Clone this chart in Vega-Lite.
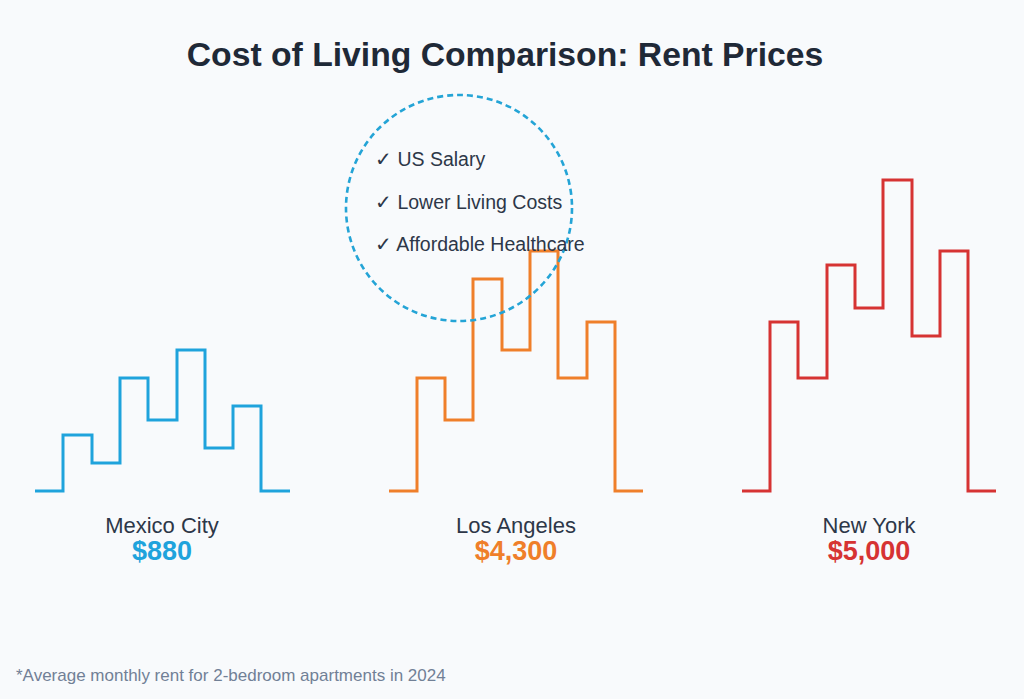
{
  "$schema": "https://vega.github.io/schema/vega-lite/v6.json",
  "width": 1024,
  "height": 699,
  "autosize": {"type": "fit", "contains": "padding"},
  "padding": 0,
  "background": "#f8fafc",
  "config": {"view": {"stroke": null}, "font": "Liberation Sans"},
  "datasets": {
    "skyline": [
      {"city": "Mexico City", "x": 35, "y": 0},
      {"city": "Mexico City", "x": 63, "y": 56},
      {"city": "Mexico City", "x": 92, "y": 28},
      {"city": "Mexico City", "x": 120, "y": 113},
      {"city": "Mexico City", "x": 148, "y": 71},
      {"city": "Mexico City", "x": 177, "y": 141},
      {"city": "Mexico City", "x": 205, "y": 43},
      {"city": "Mexico City", "x": 233, "y": 85},
      {"city": "Mexico City", "x": 261, "y": 0},
      {"city": "Mexico City", "x": 290, "y": 0},
      {"city": "Los Angeles", "x": 389, "y": 0},
      {"city": "Los Angeles", "x": 417, "y": 113},
      {"city": "Los Angeles", "x": 445, "y": 71},
      {"city": "Los Angeles", "x": 473, "y": 212},
      {"city": "Los Angeles", "x": 502, "y": 141},
      {"city": "Los Angeles", "x": 530, "y": 240},
      {"city": "Los Angeles", "x": 558, "y": 113},
      {"city": "Los Angeles", "x": 587, "y": 169},
      {"city": "Los Angeles", "x": 615, "y": 0},
      {"city": "Los Angeles", "x": 643, "y": 0},
      {"city": "New York", "x": 742, "y": 0},
      {"city": "New York", "x": 770, "y": 169},
      {"city": "New York", "x": 798, "y": 113},
      {"city": "New York", "x": 827, "y": 226},
      {"city": "New York", "x": 855, "y": 183},
      {"city": "New York", "x": 883, "y": 311},
      {"city": "New York", "x": 912, "y": 155},
      {"city": "New York", "x": 940, "y": 240},
      {"city": "New York", "x": 968, "y": 0},
      {"city": "New York", "x": 996, "y": 0}
    ],
    "cities": [
      {"city": "Mexico City", "price": "$880", "x": 162},
      {"city": "Los Angeles", "price": "$4,300", "x": 516},
      {"city": "New York", "price": "$5,000", "x": 869}
    ],
    "benefits": [
      {"label": "✓ US Salary", "x": 375, "y": 325},
      {"label": "✓ Lower Living Costs", "x": 375, "y": 282},
      {"label": "✓ Affordable Healthcare", "x": 375, "y": 240}
    ],
    "circle": [{"x": 459, "y": 283}],
    "title": [{"label": "Cost of Living Comparison: Rent Prices", "x": 505, "y": 425}],
    "note": [{"label": "*Average monthly rent for 2-bedroom apartments in 2024", "x": 16, "y": -190}]
  },
  "layer": [
    {
      "data": {"name": "skyline"},
      "mark": {"type": "line", "interpolate": "step-after", "strokeWidth": 3, "strokeJoin": "miter"},
      "encoding": {
        "x": {"field": "x", "type": "quantitative", "scale": {"domain": [0, 1024], "nice": false, "zero": false}, "axis": null},
        "y": {"field": "y", "type": "quantitative", "scale": {"domain": [-208, 491], "nice": false, "zero": false}, "axis": null},
        "color": {"field": "city", "type": "nominal", "scale": {"domain": ["Mexico City", "Los Angeles", "New York"], "range": ["#1fa3dc", "#ef7f2a", "#d63333"]}, "legend": null},
        "detail": {"field": "city"}
      }
    },
    {
      "data": {"name": "circle"},
      "mark": {"type": "point", "shape": "circle", "filled": false, "size": 51076, "stroke": "#24a4d6", "strokeWidth": 2.6, "strokeDash": [6, 4], "opacity": 1},
      "encoding": {
        "x": {"field": "x", "type": "quantitative"},
        "y": {"field": "y", "type": "quantitative"}
      }
    },
    {
      "data": {"name": "cities"},
      "mark": {"type": "text", "fontSize": 22, "color": "#2d3748", "align": "center", "baseline": "alphabetic"},
      "encoding": {
        "x": {"field": "x", "type": "quantitative"},
        "y": {"datum": -42, "type": "quantitative"},
        "text": {"field": "city"}
      }
    },
    {
      "data": {"name": "cities"},
      "mark": {"type": "text", "fontSize": 27, "fontWeight": "bold", "align": "center", "baseline": "alphabetic"},
      "encoding": {
        "x": {"field": "x", "type": "quantitative"},
        "y": {"datum": -69, "type": "quantitative"},
        "text": {"field": "price"},
        "color": {"field": "city", "type": "nominal", "legend": null}
      }
    },
    {
      "data": {"name": "benefits"},
      "mark": {"type": "text", "fontSize": 19.5, "color": "#2d3748", "align": "left", "baseline": "alphabetic"},
      "encoding": {
        "x": {"field": "x", "type": "quantitative"},
        "y": {"field": "y", "type": "quantitative"},
        "text": {"field": "label"}
      }
    },
    {
      "data": {"name": "title"},
      "mark": {"type": "text", "fontSize": 33.7, "fontWeight": "bold", "color": "#1f2937", "align": "center", "baseline": "alphabetic"},
      "encoding": {
        "x": {"field": "x", "type": "quantitative"},
        "y": {"field": "y", "type": "quantitative"},
        "text": {"field": "label"}
      }
    },
    {
      "data": {"name": "note"},
      "mark": {"type": "text", "fontSize": 17, "color": "#718096", "align": "left", "baseline": "alphabetic"},
      "encoding": {
        "x": {"field": "x", "type": "quantitative"},
        "y": {"field": "y", "type": "quantitative"},
        "text": {"field": "label"}
      }
    }
  ]
}
